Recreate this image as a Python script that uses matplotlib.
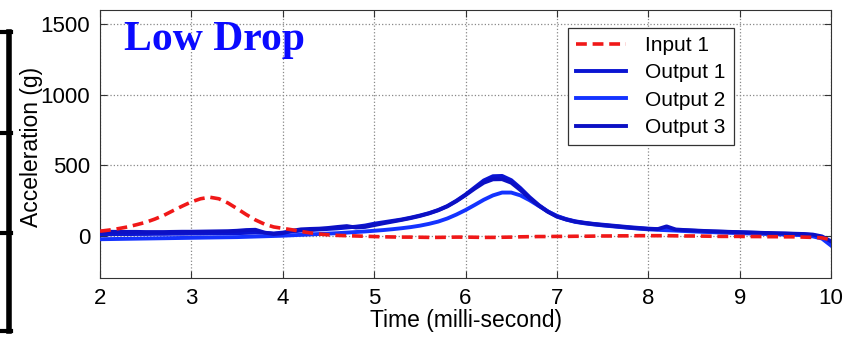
import numpy as np
import matplotlib
matplotlib.use("Agg")
import matplotlib.pyplot as plt
from matplotlib.lines import Line2D

plt.rcParams['font.family'] = ['Liberation Sans', 'DejaVu Sans']

# time axis, 0.1 ms steps from 2 to 10 ms
time_ms = np.round(np.arange(2.0, 10.01, 0.1), 1)

input_1 = [
    32, 40, 50, 62, 78, 95, 118, 145, 178, 210,
    240, 262, 273, 262, 232, 192, 150, 112, 82, 62,
    52, 42, 30, 20, 12, 6, 2, 0, -2, -4,
    -6, -8, -9, -10, -10, -11, -12, -12, -11, -10,
    -10, -11, -12, -12, -11, -10, -8, -7, -6, -6,
    -5, -5, -4, -4, -3, -2, -2, -1, -1, 0,
    0, 0, 0, -1, -2, -2, -3, -4, -5, -5,
    -5, -6, -6, -7, -7, -8, -8, -10, -12, -15,
    -30,
]

output_1 = [
    10, 10, 11, 11, 12, 12, 13, 13, 14, 14,
    15, 15, 16, 16, 17, 18, 20, 22, 20, 16,
    22, 30, 36, 40, 44, 48, 52, 58, 64, 72,
    85, 95, 105, 115, 128, 143, 160, 182, 210, 248,
    292, 342, 392, 422, 424, 394, 338, 274, 218, 172,
    140, 118, 102, 92, 84, 78, 72, 66, 60, 55,
    50, 47, 44, 41, 38, 35, 32, 30, 28, 26,
    24, 22, 20, 18, 16, 14, 12, 10, 4, -10,
    -55,
]

output_2 = [
    -25, -24, -23, -22, -21, -20, -19, -18, -17, -16,
    -15, -14, -13, -12, -11, -10, -8, -6, -4, -2,
    0, 3, 6, 9, 12, 15, 18, 22, 26, 30,
    35, 40, 46, 53, 61, 71, 84, 100, 122, 150,
    182, 218, 255, 286, 306, 306, 286, 252, 212, 172,
    138, 115, 98, 88, 80, 73, 67, 61, 55, 50,
    45, 42, 39, 36, 33, 30, 27, 25, 22, 20,
    18, 16, 14, 12, 10, 8, 6, 3, -5, -20,
    -70,
]

output_3 = [
    28, 28, 27, 27, 27, 26, 26, 26, 27, 28,
    28, 29, 30, 31, 32, 35, 40, 42, 22, 12,
    18, 35, 45, 48, 50, 55, 62, 68, 58, 62,
    75, 88, 100, 112, 125, 140, 158, 180, 208, 245,
    288, 334, 376, 400, 401, 376, 324, 266, 214, 170,
    135, 115, 100, 90, 82, 75, 69, 63, 57, 52,
    48, 46, 66, 44, 40, 37, 34, 31, 29, 27,
    25, 23, 21, 19, 17, 16, 14, 12, 8, -5,
    -40,
]

fig = plt.figure(figsize=(8.55, 3.39), dpi=100)
ax = fig.add_axes([0.117, 0.18, 0.855, 0.79])

ax.plot(time_ms, input_1, '--', color='#f01818', lw=2.6, dashes=(3, 1.6), label='Input 1', zorder=4)
ax.plot(time_ms, output_1, '-', color='#0a14d2', lw=2.8, label='Output 1', zorder=3)
ax.plot(time_ms, output_2, '-', color='#1433ff', lw=2.8, label='Output 2', zorder=3)
ax.plot(time_ms, output_3, '-', color='#0c10c4', lw=2.8, label='Output 3', zorder=3)

ax.set_xlim(2, 10)
ax.set_ylim(-300, 1600)
ax.set_xticks(range(2, 11))
ax.set_yticks([0, 500, 1000, 1500])
ax.grid(True, linestyle=':', color='#888888', linewidth=0.9)
ax.tick_params(direction='in', top=True, right=True, labelsize=16, length=5, pad=7,
               color='#333333')
for sp in ax.spines.values():
    sp.set_color('#333333')

ax.set_xlabel('Time (milli-second)', fontsize=16.5, labelpad=0)
ax.set_ylabel('Acceleration (g)', fontsize=16.5)
ax.yaxis.set_label_coords(-0.078, 0.49)

ax.text(0.033, 0.96, 'Low Drop', transform=ax.transAxes, fontsize=30,
        fontweight='bold', family='Liberation Serif', color='#0a0aff', va='top')

leg = ax.legend(loc='upper left', bbox_to_anchor=(0.64, 0.935), fontsize=15,
                fancybox=False, framealpha=1, edgecolor='#333333',
                handlelength=2.4, labelspacing=0.4, borderpad=0.4,
                handletextpad=0.9, borderaxespad=0)
leg.get_frame().set_linewidth(0.9)

# bracket from the neighbouring panel at the left edge
fig.add_artist(Line2D([0.011, 0.011], [1 - 32 / 339, 1 - 331 / 339], color='black', lw=4))
for yy in [32, 133, 233, 331]:
    fig.add_artist(Line2D([0.0, 0.013], [1 - yy / 339, 1 - yy / 339], color='black', lw=3))

fig.savefig('out.png', dpi=100)
